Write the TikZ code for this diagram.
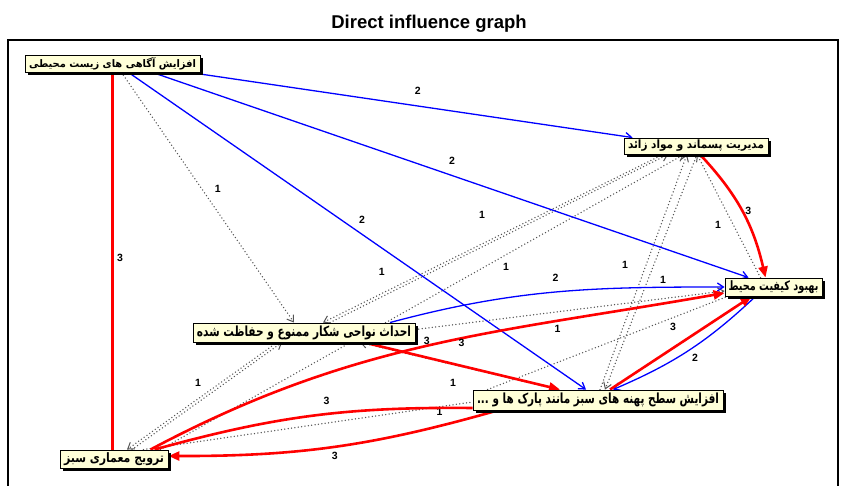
\documentclass[tikz,border=0pt]{standalone}
\usepackage{fontspec}
\usepackage{graphicx}
\setmainfont{Liberation Sans}
\newfontfamily\fa[Script=Arabic]{DejaVu Sans}
\TeXXeTstate=1
\usetikzlibrary{arrows.meta,shadows,calc}
\definecolor{nodefill}{HTML}{FFFFD8}
\definecolor{dotgray}{HTML}{555555}
\newcommand{\fatext}[3]{\resizebox*{#1}{#2}{\fa\bfseries #3}}
\pgfdeclarelayer{bg}
\pgfsetlayers{bg,main}
\tikzset{
  fbox/.style={draw=black, line width=0.9pt, fill=nodefill, inner sep=0pt,
    drop shadow={shadow xshift=3pt, shadow yshift=-3pt, fill=black, opacity=1}},
  lbl/.style={font=\fontsize{10.5}{12}\selectfont\bfseries, inner sep=0pt, text=black},
  blueE/.style={draw=blue, line width=1.3pt, -{Straight Barb[length=6pt,width=8pt]}},
  redE/.style={draw=red, line width=2.6pt, -{Triangle[length=11pt,width=9pt]}},
  redL/.style={draw=red, line width=2.6pt},
  dotE/.style={draw=dotgray, line width=1.5pt, line cap=round, dash pattern=on 0pt off 3.4pt,
    -{Straight Barb[length=6pt,width=8pt,line width=1pt]}},
  dotL/.style={draw=dotgray, line width=1.5pt, line cap=round, dash pattern=on 0pt off 3.4pt},
}
\begin{document}
\begin{tikzpicture}[x=1pt,y=1pt]
\useasboundingbox (0,0) rectangle (846,-486);
% title and frame
\node[font=\fontsize{18.5}{20}\selectfont\bfseries, inner sep=0pt] (title) at (429,-24) {Direct influence graph};
\draw[line width=2pt] (838,-520) -- (838,-40) -- (8,-40) -- (8,-520);
% nodes
\node[fbox, minimum width=175pt, minimum height=17pt] (A) at (112.5,-63.5) {\fatext{167pt}{12.5pt}{\beginR افزایش آگاهی های زیست محیطی\endR}};
\node[fbox, minimum width=144pt, minimum height=16pt] (B) at (696,-146) {\fatext{136pt}{11.5pt}{\beginR مدیریت پسماند و مواد زائد\endR}};
\node[fbox, minimum width=97pt, minimum height=18pt] (C) at (773.5,-287) {\fatext{90pt}{13pt}{\beginR بهبود کیفیت محیط\endR}};
\node[fbox, minimum width=222pt, minimum height=19pt] (D) at (304,-332.5) {\fatext{214pt}{14pt}{\beginR احداث نواحی شکار ممنوع و حفاظت شده\endR}};
\node[fbox, minimum width=250pt, minimum height=20pt] (E) at (598,-400) {\fatext{242pt}{14pt}{\beginR افزایش سطح پهنه های سبز مانند پارک ها و ...\endR}};
\node[fbox, minimum width=108pt, minimum height=18pt] (F) at (114,-459) {\fatext{100pt}{13pt}{\beginR ترویج معماری سبز\endR}};
\begin{pgfonlayer}{bg}
% dotted edges (weight 1)
\draw[dotE] ([xshift=9pt]A.south) -- node[lbl,xshift=10pt,yshift=8.5pt]{1} ([xshift=-10pt]D.north);
\draw[dotE] ([xshift=-13pt]C.north) -- node[lbl,xshift=-10.75pt,yshift=-9pt]{1} ([xshift=1pt]B.south);
\draw[dotE] ([xshift=18pt]F.north) -- node[lbl,xshift=-9pt,yshift=13pt]{1} ([xshift=-22pt]D.south);
\draw[dotE] ([xshift=-27pt]D.south) -- ([xshift=13pt]F.north);
\draw[dotE] ([xshift=-33pt]B.south) -- node[lbl,xshift=-11pt,yshift=23.5pt]{1} ([xshift=19pt]D.north);
\draw[dotE] ([xshift=26pt]D.north) -- node[lbl,pos=0.15,xshift=1pt,yshift=25pt]{1} ([xshift=-28pt]B.south);
\draw[dotE] ([xshift=-8pt]F.north east) -- node[lbl,pos=0.66,yshift=-12pt]{1} ([xshift=-12pt]B.south);
\draw[dotE] ([xshift=2pt]E.north) -- node[lbl,xshift=-18.5pt,yshift=7pt]{1} ([xshift=-9pt]B.south);
\draw[dotE] ([xshift=1pt]B.south) -- node[lbl,xshift=12pt,yshift=-8pt]{1} ([xshift=7pt]E.north);
\draw[dotE] ([yshift=3pt]D.east) -- node[lbl,pos=0.46,yshift=-17pt]{1} ([yshift=-4pt]C.west);
\draw[dotE] ([xshift=-40pt]E.north) -- node[lbl,xshift=-6pt,yshift=-17pt]{1} ([xshift=56pt]D.south);
\draw[dotL] ([xshift=-25pt]F.north east) -- node[lbl,pos=0.9,yshift=-5pt]{1} ([yshift=-2pt]E.west);
\draw[dotL] ([xshift=15pt]E.north west) -- ([xshift=3pt]C.south west);
% blue edges (weight 2)
\draw[blueE] ([xshift=77pt]A.south) -- node[lbl,xshift=6.75pt,yshift=14pt]{2} ([xshift=9pt]B.north west);
\draw[blueE] ([xshift=40pt]A.south) -- node[lbl,xshift=1.5pt,yshift=14pt]{2} ([xshift=-25pt]C.north);
\draw[blueE] ([xshift=16pt]A.south) -- node[lbl,xshift=4.75pt,yshift=11pt]{2} ([xshift=-12pt]E.north);
\draw[blueE] ([xshift=86pt]D.north) to[out=15,in=180] node[lbl,pos=0.5,yshift=14pt]{2} (C.west);
\draw[blueE] ([xshift=-18pt]C.south) to[bend left=10] node[lbl,xshift=6pt,yshift=-8pt]{2} ([xshift=15pt]E.north);
% red edges (weight 3)
\draw[redL] (A.south) -- node[lbl,xshift=7.5pt,yshift=3pt]{3} (A.south |- F.north);
\draw[redE] ([xshift=4pt]B.south) to[bend left=15] node[lbl,right=2pt]{3} ([xshift=-8pt]C.north);
\draw[redE] ([xshift=60pt]D.south) -- node[lbl,pos=0.32,yshift=17pt]{3} ([xshift=-38pt]E.north);
\draw[redE] ([xshift=-18pt]F.north east) to[out=28,in=190] node[lbl,pos=0.55,xshift=6pt,yshift=-3pt]{3} ([yshift=-6pt]C.west);
\draw[redE] ([xshift=12pt]E.north) -- node[lbl,xshift=-7.75pt,yshift=16pt]{3} ([xshift=-22pt]C.south);
\draw[redE] ([xshift=25pt]E.south west) to[bend left=8] node[lbl,below=4pt]{3} ([yshift=3pt]F.east);
\draw[redL] ([xshift=-14pt]F.north east) to[bend left=8] node[lbl,pos=0.55,above=8pt]{3} ([yshift=-8pt]E.west);
\end{pgfonlayer}
\end{tikzpicture}
\end{document}
